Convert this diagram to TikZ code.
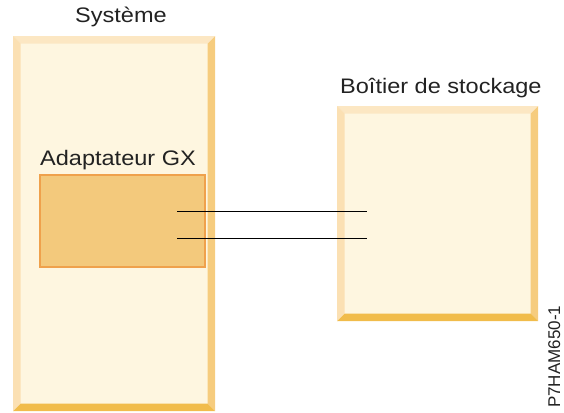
\documentclass[tikz,border=0pt]{standalone}
\usepackage{fontspec}
\setmainfont{Liberation Sans}[FakeStretch=1.12]
\newfontfamily\codefont{Liberation Sans}
\usetikzlibrary{positioning}
\definecolor{panelfill}{HTML}{FEF6E0}
\definecolor{bevtop}{HTML}{FCE7C3}
\definecolor{bevleft}{HTML}{FBE0B3}
\definecolor{bevright}{HTML}{F6CC7E}
\definecolor{bevbottom}{HTML}{F1BC4B}
\definecolor{cardfill}{HTML}{F3C97C}
\definecolor{cardedge}{HTML}{EFA14C}
\definecolor{textgray}{HTML}{222222}
\def\bw{7.5pt}
\tikzset{panel/.style={rectangle, inner sep=0pt, fill=panelfill, path picture={
    \path (path picture bounding box.north west) coordinate (pnw)
          (path picture bounding box.north east) coordinate (pne)
          (path picture bounding box.south west) coordinate (psw)
          (path picture bounding box.south east) coordinate (pse);
    \fill[bevtop] (pnw) -- (pne) -- ([shift={(-\bw,-\bw)}]pne) -- ([shift={(\bw,-\bw)}]pnw) -- cycle;
    \fill[bevleft] (pnw) -- ([shift={(\bw,-\bw)}]pnw) -- ([shift={(\bw,\bw)}]psw) -- (psw) -- cycle;
    \fill[bevright] (pne) -- (pse) -- ([shift={(-\bw,\bw)}]pse) -- ([shift={(-\bw,-\bw)}]pne) -- cycle;
    \fill[bevbottom] (psw) -- ([shift={(\bw,\bw)}]psw) -- ([shift={(-\bw,\bw)}]pse) -- (pse) -- cycle;}}}
\tikzset{card/.style={rectangle, inner sep=0pt, fill=cardfill, draw=cardedge, line width=2pt}}
\tikzset{title/.style={inner sep=0pt, text=textgray, font=\fontsize{21}{25}\selectfont}}
\tikzset{cable/.style={draw=black, line width=1pt}}

\begin{document}
\begin{tikzpicture}[x=1pt, y=-1pt]
    \useasboundingbox (0,0) rectangle (564,412);

    \node[panel, minimum width=202pt, minimum height=375pt, anchor=north west]  (system)   at (13,36)   {};
    \node[panel, minimum width=201pt, minimum height=215pt, anchor=north west]  (storage)  at (337,106)  {};
    \node[card, minimum width=165pt, minimum height=92pt, anchor=north west]   (adapter)  at (39,174)   {};

    \node[title, anchor=base west]  (systitle)     at (75,23)   {Système};
    \node[title, anchor=base west]  (adaptitle)    at (40,165)  {Adaptateur GX};
    \node[title, anchor=base west]  (storagetitle) at (340,93)  {Boîtier de stockage};
    \node[inner sep=0pt, text=textgray, font=\codefont\fontsize{17}{20}\selectfont, rotate=90, anchor=base west] (figid) at (560,408) {P7HAM650-1};

    \coordinate (gxtop)  at (177,211);
    \coordinate (gxbot)  at (177,238);
    \coordinate (enctop) at (367,211);
    \coordinate (encbot) at (367,238);

    \draw[cable] (gxtop) -- (enctop);
    \draw[cable] (gxbot) -- (encbot);
\end{tikzpicture}
\end{document}
